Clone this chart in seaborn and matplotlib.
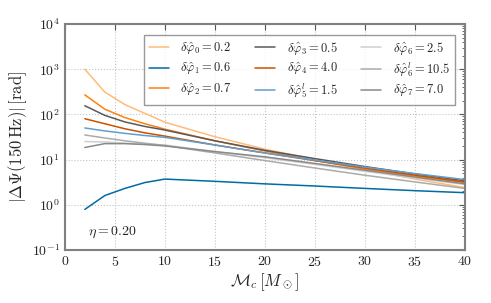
import matplotlib
matplotlib.use("Agg")
import matplotlib.pyplot as plt
import seaborn as sns
import numpy as np
import pandas as pd
from matplotlib.ticker import LogLocator, NullFormatter

mc = [2, 4, 6, 8, 10, 15, 20, 25, 30, 35, 40]

labels = [r'$\delta\hat{\varphi}_0=0.2$', r'$\delta\hat{\varphi}_1=0.6$', r'$\delta\hat{\varphi}_2=0.7$',
          r'$\delta\hat{\varphi}_3=0.5$', r'$\delta\hat{\varphi}_4=4.0$', r'$\delta\hat{\varphi}_5^l=1.5$',
          r'$\delta\hat{\varphi}_6=2.5$', r'$\delta\hat{\varphi}_6^l=10.5$', r'$\delta\hat{\varphi}_7=7.0$']

phi0 = [1000, 310, 165, 105, 67, 32, 17, 10, 6.0, 3.7, 2.4]
phi1 = [0.79, 1.6, 2.3, 3.1, 3.7, 3.3, 2.9, 2.6, 2.3, 2.05, 1.85]
phi2 = [270, 130, 85, 62, 47, 26, 15.5, 9.5, 6.2, 4.3, 3.1]
phi3 = [155, 95, 68, 54, 45, 26, 16, 10.5, 7.0, 4.8, 3.4]
phi4 = [80, 62, 48, 39, 33, 21, 14, 9.5, 6.5, 4.5, 3.2]
phi5l = [50, 43, 38, 34, 31, 21, 14, 9.7, 6.8, 4.9, 3.6]
phi6 = [25, 24.5, 23, 22, 21, 15, 11, 7.8, 5.5, 3.9, 2.8]
phi6l = [35, 30, 26, 23, 20.5, 14, 9.5, 6.5, 4.5, 3.2, 2.3]
phi7 = [18.5, 22.5, 22.5, 21.5, 20, 15, 11.5, 8.2, 5.8, 4.1, 2.9]

series = [phi0, phi1, phi2, phi3, phi4, phi5l, phi6, phi6l, phi7]
colors = ['#FFBC79', '#006BA4', '#FF800E', '#595959', '#C85200', '#5F9ED1', '#CFCFCF', '#ABABAB', '#898989']

sns.set_style("white")
plt.rcParams['font.family'] = ['cmr10', 'DejaVu Serif']
plt.rcParams['mathtext.fontset'] = 'cm'
plt.rcParams['axes.formatter.use_mathtext'] = True

fig = plt.figure(figsize=(4.91, 3.03), dpi=100)
ax = fig.add_axes([0.132, 0.175, 0.815, 0.746])

rows = []
for lab, ys in zip(labels, series):
    for x, y in zip(mc, ys):
        rows.append({'Mc': x, 'val': y, 'label': lab})
df = pd.DataFrame(rows)

sns.lineplot(data=df, x='Mc', y='val', hue='label', hue_order=labels,
             palette=dict(zip(labels, colors)), ax=ax, linewidth=1.1)

ax.set_yscale('log')
ax.set_xlim(0, 40)
ax.set_ylim(0.1, 1e4)
ax.set_xticks(range(0, 41, 5))
ax.yaxis.set_major_locator(LogLocator(base=10, numticks=10))
ax.yaxis.set_minor_locator(LogLocator(base=10, subs=np.arange(2, 10), numticks=20))
ax.yaxis.set_minor_formatter(NullFormatter())

ax.grid(True, which='major', linestyle=':', color='#c4c4c4', linewidth=0.8)
for s in ax.spines.values():
    s.set_color('#808080')
    s.set_linewidth(1.5)
ax.tick_params(which='both', direction='in', top=True, right=True, color='#555555', labelsize=10)
ax.tick_params(which='major', length=4)
ax.tick_params(which='minor', length=2)

ax.set_xlabel(r'$\mathcal{M}_c\,[M_\odot]$', fontsize=12, labelpad=2)
ax.set_ylabel(r'$|\Delta\Psi(150\,\mathrm{Hz})|\,[\mathrm{rad}]$', fontsize=12, labelpad=2)
ax.text(2.3, 0.25, r'$\eta=0.20$', fontsize=10, va='center')

leg = ax.legend(loc='upper right', ncol=3, fontsize=9, frameon=True, fancybox=False,
                edgecolor='#808080', handlelength=1.6, columnspacing=1.9,
                labelspacing=0.3, borderpad=0.4, handletextpad=0.9,
                bbox_to_anchor=(0.99, 0.98))
leg.get_frame().set_linewidth(1.0)

fig.savefig('out.png', dpi=100)
